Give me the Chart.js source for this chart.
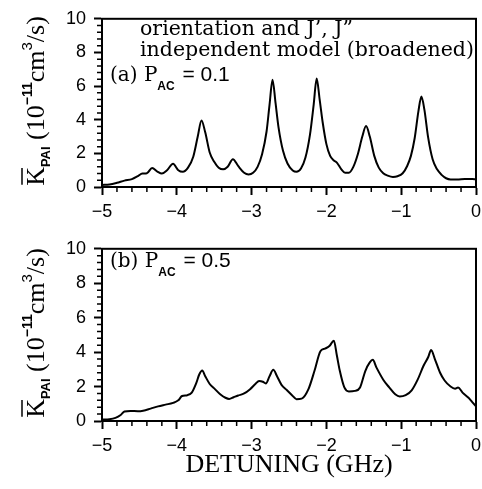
<!DOCTYPE html>
<html>
<head>
<meta charset="utf-8">
<script src="https://cdn.jsdelivr.net/npm/chart.js@4.4.1/dist/chart.umd.min.js"></script>
<style>
    html, body { margin: 0; padding: 0; background: #fff; }
    .panel { position: absolute; left: 0; }
    #topPanel { top: 0; }
    #bottomPanel { top: 230px; }
</style>
</head>
<body>
<canvas id="topPanel" class="panel" width="482" height="230"></canvas>
<canvas id="bottomPanel" class="panel" width="482" height="259"></canvas>
<script>
// ── Data ──
const xTicks = [-5, -4, -3, -2, -1, 0];
const yTicks = [0, 2, 4, 6, 8, 10];
const xMinorStep = 0.2;
const yMinorStep = 0.4;

// (a) P_AC = 0.1
const topDetuning = [
    -5.00, -4.90, -4.80, -4.70, -4.60, -4.52, -4.46, -4.40, -4.33, -4.26,
    -4.20, -4.13, -4.05, -3.98, -3.92, -3.85, -3.78, -3.72, -3.67, -3.62,
    -3.56, -3.50, -3.44, -3.38, -3.32, -3.25, -3.18, -3.10, -3.04, -2.98,
    -2.92, -2.86, -2.80, -2.76, -2.72, -2.68, -2.64, -2.58, -2.52, -2.45,
    -2.40, -2.34, -2.28, -2.22, -2.17, -2.13, -2.09, -2.05, -2.00, -1.95,
    -1.90, -1.86, -1.80, -1.75, -1.70, -1.64, -1.58, -1.52, -1.47, -1.42,
    -1.36, -1.30, -1.24, -1.18, -1.11, -1.05, -0.98, -0.92, -0.87, -0.82,
    -0.77, -0.73, -0.69, -0.64, -0.58, -0.52, -0.46, -0.40, -0.34, -0.25,
    -0.15, -0.05, 0.00
];
const topRate = [
    0.12, 0.15, 0.25, 0.38, 0.47, 0.65, 0.80, 0.82, 1.13, 0.92,
    0.80, 1.00, 1.38, 1.00, 0.90, 1.15, 1.80, 3.00, 3.95, 3.25,
    2.05, 1.50, 1.15, 1.05, 1.20, 1.65, 1.25, 0.85, 0.75, 0.85,
    1.20, 1.95, 3.30, 4.90, 6.38, 5.00, 3.55, 2.15, 1.40, 0.98,
    0.90, 1.10, 1.75, 3.10, 4.90, 6.45, 5.20, 3.85, 2.55, 1.85,
    1.58, 1.45, 1.05, 0.85, 0.85, 1.20, 1.95, 3.00, 3.62, 3.00,
    1.85, 1.15, 0.82, 0.68, 0.60, 0.64, 0.82, 1.25, 1.85, 2.90,
    4.50, 5.38, 4.60, 2.95, 1.65, 1.05, 0.72, 0.52, 0.45, 0.45,
    0.48, 0.47, 0.45
];

// (b) P_AC = 0.5
const bottomDetuning = [
    -5.00, -4.90, -4.82, -4.75, -4.70, -4.62, -4.52, -4.45, -4.35, -4.25,
    -4.15, -4.05, -3.98, -3.93, -3.86, -3.80, -3.74, -3.70, -3.66, -3.62,
    -3.56, -3.49, -3.42, -3.35, -3.30, -3.24, -3.18, -3.10, -3.02, -2.95,
    -2.90, -2.85, -2.81, -2.76, -2.71, -2.66, -2.60, -2.53, -2.46, -2.40,
    -2.33, -2.24, -2.16, -2.08, -2.02, -1.96, -1.90, -1.86, -1.82, -1.76,
    -1.70, -1.62, -1.55, -1.48, -1.42, -1.38, -1.33, -1.24, -1.16, -1.08,
    -1.02, -0.94, -0.86, -0.78, -0.70, -0.64, -0.60, -0.55, -0.48, -0.42,
    -0.34, -0.28, -0.24, -0.18, -0.10, -0.05, 0.00
];
const bottomRate = [
    0.08, 0.10, 0.18, 0.35, 0.55, 0.58, 0.57, 0.60, 0.72, 0.85,
    0.95, 1.05, 1.20, 1.45, 1.50, 1.65, 2.20, 2.70, 2.93, 2.60,
    2.15, 1.85, 1.55, 1.35, 1.28, 1.38, 1.48, 1.60, 1.85, 2.15,
    2.32, 2.28, 2.18, 2.60, 2.97, 2.60, 2.10, 1.80, 1.50, 1.27,
    1.30, 1.85, 2.90, 4.05, 4.20, 4.35, 4.66, 3.80, 2.90, 1.95,
    1.72, 1.75, 1.95, 2.90, 3.40, 3.55, 3.10, 2.40, 1.95, 1.55,
    1.42, 1.50, 1.78, 2.40, 3.22, 3.70, 4.12, 3.60, 2.80, 2.35,
    2.00, 1.88, 1.95, 1.65, 1.35, 1.10, 0.85
];

// ── Fonts ──
const SANS = "'Liberation Sans', Arial, sans-serif";
const SERIF = "'Liberation Serif', 'Times New Roman', serif";
const LABEL_SERIF = "'DejaVu Serif', serif";

Chart.defaults.font.family = SANS;
Chart.defaults.color = '#000';

// ── Minor ticks + box frame ──
const frame = {
    id: 'frame',
    afterDraw(chart) {
        const { ctx, chartArea: a, scales: { x, y } } = chart;
        ctx.save();
        ctx.strokeStyle = '#000';
        ctx.lineWidth = 1.5;
        ctx.beginPath();
        const nx = Math.round((x.max - x.min) / xMinorStep);
        for (let i = 0; i <= nx; i++) {
            if (i % 5 === 0) continue;
            const px = x.getPixelForValue(x.min + i * xMinorStep);
            ctx.moveTo(px, a.bottom);
            ctx.lineTo(px, a.bottom + 5);
        }
        const ny = Math.round((y.max - y.min) / yMinorStep);
        for (let i = 0; i <= ny; i++) {
            if (i % 5 === 0) continue;
            const py = y.getPixelForValue(y.min + i * yMinorStep);
            ctx.moveTo(a.left, py);
            ctx.lineTo(a.left - 5, py);
        }
        ctx.stroke();
        ctx.lineWidth = 2;
        ctx.strokeRect(a.left, a.top, a.right - a.left, a.bottom - a.top);
        ctx.restore();
    }
};

// ── Rotated y title: K̄_PAI (10^-11 cm^3/s) ──
function drawYTitle(ctx, baseX, centerY) {
    const parts = [
        { t: 'K', font: '26px ' + SERIF, dy: 0, bar: true },
        { t: 'PAI', font: 'bold 13px ' + SANS, dy: 6 },
        { t: ' (10', font: '26px ' + SERIF, dy: 0 },
        { t: '\u221211', font: 'bold 14px ' + SANS, dy: -12 },
        { t: 'cm', font: '26px ' + SERIF, dy: 0 },
        { t: '3', font: '15px ' + SANS, dy: -12 },
        { t: '/s)', font: '26px ' + SERIF, dy: 0 }
    ];
    ctx.save();
    let total = 0;
    parts.forEach(p => { ctx.font = p.font; p.w = ctx.measureText(p.t).width; total += p.w; });
    ctx.translate(baseX, centerY);
    ctx.rotate(-Math.PI / 2);
    ctx.fillStyle = '#000';
    ctx.strokeStyle = '#000';
    ctx.textBaseline = 'alphabetic';
    let cx = -total / 2;
    parts.forEach(p => {
        ctx.font = p.font;
        ctx.fillText(p.t, cx, p.dy);
        if (p.bar) {
            ctx.lineWidth = 1.5;
            ctx.beginPath();
            ctx.moveTo(cx + 1, -22);
            ctx.lineTo(cx + p.w - 1, -22);
            ctx.stroke();
        }
        cx += p.w;
    });
    ctx.restore();
}

// ── Panel label: (a) P_AC = 0.1 ──
function drawPanelLabel(ctx, x, baseY, letter, value) {
    const parts = [
        { t: '(' + letter + ') P', font: '20px ' + LABEL_SERIF, dy: 0 },
        { t: 'AC', font: 'bold 12px ' + SANS, dy: 9 },
        { t: ' = ' + value, font: '21px ' + SANS, dy: 0 }
    ];
    ctx.save();
    ctx.fillStyle = '#000';
    ctx.textBaseline = 'alphabetic';
    let cx = x;
    parts.forEach(p => {
        ctx.font = p.font;
        ctx.fillText(p.t, cx, baseY + p.dy);
        cx += ctx.measureText(p.t).width + (p.t === 'AC' ? 2 : 0);
    });
    ctx.restore();
}

const topText = {
    id: 'topText',
    afterDraw(chart) {
        const ctx = chart.ctx;
        ctx.save();
        ctx.fillStyle = '#000';
        ctx.font = '20.5px ' + LABEL_SERIF;
        ctx.fillText('orientation and J\u2019, J\u201D', 140, 35);
        ctx.fillText('independent model (broadened)', 140, 56);
        ctx.restore();
        drawPanelLabel(ctx, 110, 81, 'a', '0.1');
        drawYTitle(ctx, 44, 101);
    }
};

const bottomText = {
    id: 'bottomText',
    afterDraw(chart) {
        drawPanelLabel(chart.ctx, 110, 267 - 230, 'b', '0.5');
        drawYTitle(chart.ctx, 44, 333 - 230);
    }
};

// ── Chart factory ──
function createPanel(canvasId, xs, ys, padTop, xHeight, showTitle, textPlugin) {
    const ctx = document.getElementById(canvasId);
    return new Chart(ctx, {
        type: 'line',
        data: {
            datasets: [{
                data: xs.map((x, i) => ({ x: x, y: ys[i] })),
                borderColor: '#000',
                borderWidth: 2,
                pointRadius: 0,
                cubicInterpolationMode: 'monotone',
                fill: false
            }]
        },
        options: {
            responsive: false,
            animation: false,
            layout: { padding: { left: 0, right: 6, top: padTop, bottom: 0 } },
            plugins: { legend: { display: false }, tooltip: { enabled: false } },
            scales: {
                x: {
                    type: 'linear',
                    min: xTicks[0],
                    max: xTicks[xTicks.length - 1],
                    afterBuildTicks: s => { s.ticks = xTicks.map(v => ({ value: v })); },
                    afterFit: s => {
                        s.height = xHeight;
                        s.paddingLeft = 0;
                        s.paddingRight = 0;
                    },
                    ticks: {
                        font: { size: 18 },
                        padding: 6,
                        maxRotation: 0,
                        callback: v => v < 0 ? '\u2212' + Math.abs(v) : String(v)
                    },
                    grid: { drawOnChartArea: false, tickLength: 8, tickWidth: 2, tickColor: '#000' },
                    border: { display: true, width: 2, color: '#000' },
                    title: {
                        display: showTitle,
                        text: 'DETUNING (GHz)',
                        font: { family: SERIF, size: 26 },
                        padding: { top: 0, bottom: 8 }
                    }
                },
                y: {
                    min: yTicks[0],
                    max: yTicks[yTicks.length - 1],
                    afterBuildTicks: s => { s.ticks = yTicks.map(v => ({ value: v })); },
                    afterFit: s => { s.width = 102; },
                    ticks: { font: { size: 18 }, padding: 8 },
                    grid: { drawOnChartArea: false, tickLength: 8, tickWidth: 2, tickColor: '#000' },
                    border: { display: true, width: 2, color: '#000' }
                }
            }
        },
        plugins: [frame, textPlugin]
    });
}

createPanel('topPanel', topDetuning, topRate, 13, 43, false, topText);
createPanel('bottomPanel', bottomDetuning, bottomRate, 17, 68, true, bottomText);
</script>
</body>
</html>
